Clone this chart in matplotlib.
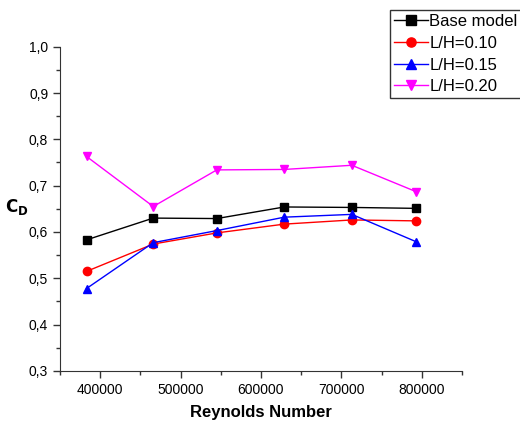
import matplotlib.pyplot as plt
from matplotlib.ticker import MultipleLocator, FuncFormatter

plt.rcParams['font.family'] = ['Liberation Sans', 'DejaVu Sans']

reynolds = [383000, 466000, 545000, 629000, 713000, 793000]
cd_base = [0.583, 0.630, 0.629, 0.654, 0.653, 0.651]
cd_010 = [0.515, 0.574, 0.598, 0.617, 0.626, 0.624]
cd_015 = [0.478, 0.577, 0.603, 0.632, 0.638, 0.579]
cd_020 = [0.763, 0.655, 0.734, 0.735, 0.744, 0.687]
labels = ['Base model', 'L/H=0.10', 'L/H=0.15', 'L/H=0.20']

fig = plt.figure(figsize=(5.2, 4.22), dpi=100)
ax = fig.add_axes([0.1154, 0.1209, 0.773, 0.7685])

series = [(cd_base, 'black', 's'), (cd_010, 'red', 'o'),
          (cd_015, 'blue', '^'), (cd_020, 'magenta', 'v')]
for (vals, col, mk), lab in zip(series, labels):
    ax.plot(reynolds, vals, color=col, marker=mk, markersize=6, lw=1, label=lab)

ax.set_xlim(350000, 850000)
ax.set_ylim(0.3, 1.0)
ax.xaxis.set_major_locator(MultipleLocator(100000))
ax.xaxis.set_minor_locator(MultipleLocator(50000))
ax.yaxis.set_major_locator(MultipleLocator(0.1))
ax.yaxis.set_minor_locator(MultipleLocator(0.05))
ax.yaxis.set_major_formatter(FuncFormatter(lambda v, p: f'{v:.1f}'.replace('.', ',')))
ax.xaxis.set_major_formatter(FuncFormatter(lambda v, p: f'{int(round(v))}'))
ax.tick_params(which='major', direction='out', length=5, width=1, labelsize=10, color='#333333')
ax.tick_params(which='minor', direction='out', length=3, width=1, color='#333333')
for s in ['top', 'right']:
    ax.spines[s].set_visible(False)
for s in ['left', 'bottom']:
    ax.spines[s].set_color('#333333')

ax.set_xlabel('Reynolds Number', fontsize=12, fontweight='bold', labelpad=6)
fig.text(0.033, 0.51, r'$\mathbf{C_D}$', fontsize=12, ha='center', va='center')

leg = ax.legend(loc='upper left', bbox_to_anchor=(0.75, 0.976), bbox_transform=fig.transFigure,
                fontsize=12, frameon=True, fancybox=False, edgecolor='black',
                handlelength=2.0, handletextpad=0.1, labelspacing=0.4,
                borderpad=0.25, borderaxespad=0, markerscale=1.1)
leg.get_frame().set_linewidth(1)

fig.savefig('out.png', dpi=100)
